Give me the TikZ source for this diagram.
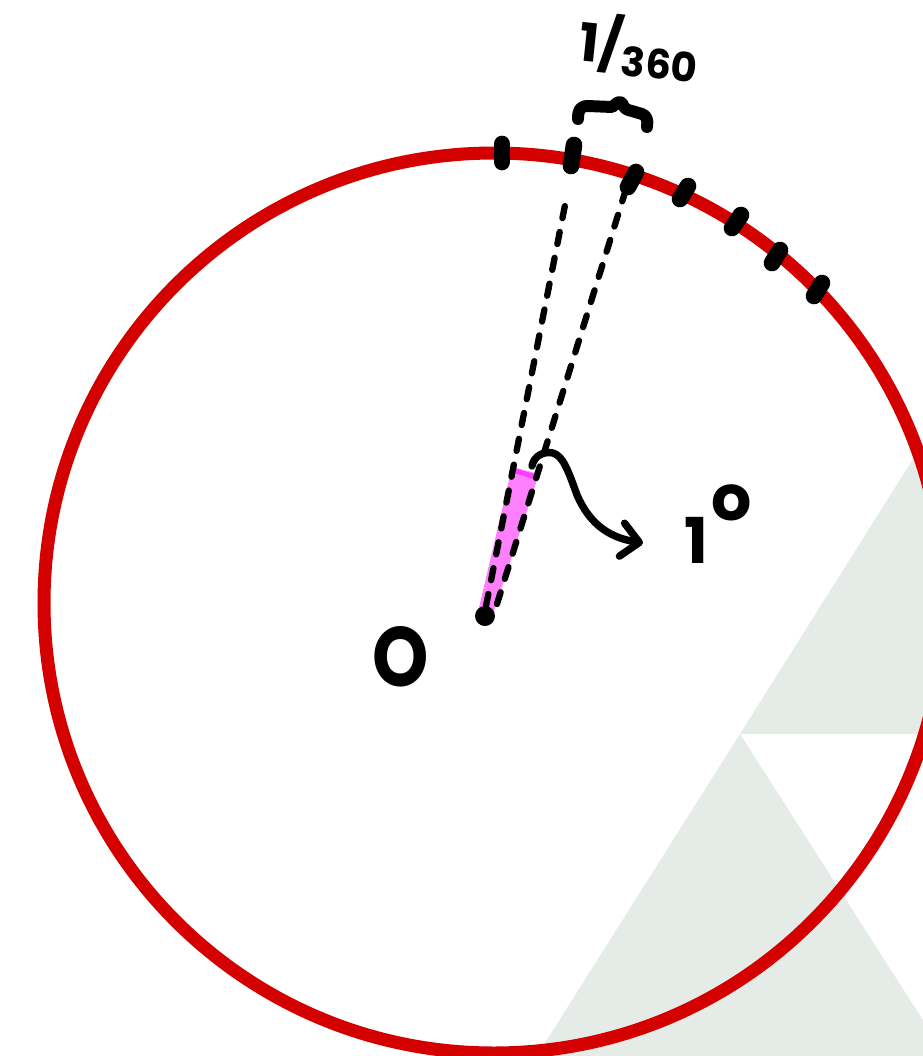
\documentclass[tikz,border=0pt]{standalone}
\usepackage{fontspec}
\setmainfont{Poppins}
\usetikzlibrary{arrows.meta}
\definecolor{ringred}{RGB}{212,0,0}
\definecolor{tri}{RGB}{229,235,231}
\definecolor{wedge}{RGB}{255,128,255}
\definecolor{wedgetop}{RGB}{255,60,255}
\begin{document}
\begin{tikzpicture}[x=0.02cm,y=-0.02cm,
  ring/.style={draw=ringred,line width=7.4pt},
  tickmark/.style={line width=9.5pt,line cap=round},
  rayline/.style={line width=3.6pt,line cap=round,dash pattern=on 7pt off 8pt},
  ink/.style={line width=6.8pt,line cap=round,line join=round},
  pointer/.style={line width=4.2pt,line cap=round,line join=round,
    -{Straight Barb[length=10pt,width=19pt,line cap=round,line join=round]}},
  lbl/.style={inner sep=0pt,font=\bfseries}]
\useasboundingbox (0,0) rectangle (923,1056);
\clip (0,0) rectangle (923,1056);
\fill[white] (0,0) rectangle (923,1056);
% background triangles
\fill[tri] (925,440) -- (1110,734) -- (740,734) -- cycle;
\fill[tri] (740,734) -- (974,1100) -- (509,1100) -- cycle;
% circle
\coordinate (C) at (494,603);
\draw[ring] (C) circle[radius=450];
% ticks
\foreach \n/\a/\b in {1/{502,144}/{502,162},2/{574,145}/{571,166},3/{628,187}/{636,172},
  4/{680,199}/{688,186},5/{732,228}/{741,215},6/{772,263}/{780,250},7/{814,296}/{822,283}}{
  \coordinate (ta\n) at (\a);
  \coordinate (tb\n) at (\b);
  \draw[tickmark] (ta\n) -- (tb\n);
}
% wedge
\fill[wedge] (478,612) -- (493,614) -- (539,474) -- (512,467) -- cycle;
\draw[wedgetop,line width=2.8pt,line cap=round] (516,471) -- (535,477);
% rays
\coordinate (OL) at (486,606);
\coordinate (OR) at (497,604);
\coordinate (E2) at (567,195);
\coordinate (E3) at (627,186);
\draw[rayline] (OL) -- (E2);
\draw[rayline] (OR) -- (E3);
% centre dot
\fill (485,616) circle[radius=10];
% brace
\draw[ink] (578,119) .. controls (578,110) and (580,106) .. (588,106)
  -- (612,107) .. controls (616,104) and (619,100) .. (622,103)
  .. controls (624,108) and (626,110) .. (632,111) -- (642,114)
  .. controls (647,116) and (648,120) .. (647,127);
% labels
\node[lbl,anchor=base west,rotate=-6] (frac) at (577,60)
  {\fontsize{30}{30}\selectfont 1/\raisebox{-6pt}{\fontsize{23}{23}\selectfont 360}};
\node[lbl,anchor=base,xscale=0.85] (O) at (401,686) {\fontsize{48}{48}\selectfont O};
\node[lbl,anchor=base west] (deg) at (684,563)
  {\fontsize{36}{36}\selectfont 1\hspace{2pt}\raisebox{24pt}{o}};
% arrow
\coordinate (A0) at (532,466);
\coordinate (A1) at (643,543);
\draw[pointer] (A0) .. controls (534,455) and (545,451) .. (553,453)
  .. controls (563,456) and (568,470) .. (577,495)
  .. controls (588,520) and (605,537) .. (A1);
\end{tikzpicture}
\end{document}
